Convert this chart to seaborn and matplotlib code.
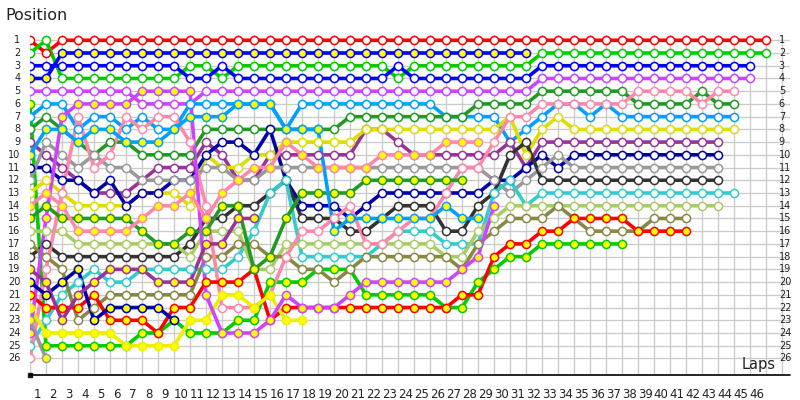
import matplotlib
matplotlib.use("Agg")
import matplotlib.pyplot as plt
import seaborn as sns
import numpy as np
import pandas as pd

sns.set_theme(style="white")
plt.rcParams['font.family'] = ['DejaVu Sans']

# Each driver: (line colour, marker face, runs of (position, number of laps)) starting at lap 0
red_w = [(1,1),(2,1),(1,45)]
green_w = [(2,1),(1,1),(4,8),(3,2),(4,1),(3,10),(4,1),(3,8),(2,15)]
blue_w = [(3,10),(4,2),(3,1),(4,10),(3,1),(4,8),(3,14)]
blue_y = [(4,2),(2,30)]
magenta_w = [(5,7),(6,4),(5,21),(4,14)]
green_y = [(6,1),(25,6),(24,2),(23,1),(24,3),(23,2),(20,3),(19,3),(21,5),(22,2),(20,1),(19,1),(18,2),(17,6)]
lightblue_w = [(7,1),(6,2),(8,1),(7,2),(8,1),(7,1),(8,2),(6,6),(8,1),(6,9),(7,4),(9,1),(8,1),(7,1),(6,2),(7,1),(6,1),(7,8)]
darkgreen_w = [(8,1),(7,1),(8,1),(9,1),(10,1),(9,2),(10,4),(8,9),(7,8),(6,4),(5,6),(6,4),(5,1),(6,2)]
purple_w = [(9,1),(10,1),(11,1),(12,1),(13,3),(12,1),(11,3),(9,1),(10,1),(12,2),(10,6),(8,2),(9,1),(10,6),(9,1),(11,1),(9,12)]
yellow_w = [(13,1),(12,1),(13,1),(14,4),(13,3),(14,1),(10,1),(11,2),(10,2),(9,5),(8,7),(8,2),(7,1),(10,1),(8,1),(7,1),(8,11)]
darkblue_w = [(11,2),(12,2),(13,1),(12,1),(14,1),(13,2),(12,2),(10,1),(9,2),(10,1),(8,1),(12,1),(14,3),(15,1),(14,1),(13,7),(12,2),(11,1),(10,1),(11,1),(10,10)]
gray_w = [(12,1),(9,1),(10,1),(11,1),(10,1),(11,2),(12,4),(11,2),(12,2),(11,14),(12,1),(13,1),(12,1),(11,1),(10,1),(11,10)]
black_w = [(18,1),(17,1),(18,8),(17,1),(15,2),(14,2),(13,1),(12,1),(15,3),(16,2),(15,1),(14,3),(16,2),(14,1),(13,1),(10,1),(9,1),(12,12)]
cyan_w = [(25,1),(23,1),(21,1),(20,1),(19,1),(20,2),(19,6),(18,1),(16,1),(13,1),(12,1),(18,5),(17,1),(16,3),(17,3),(13,1),(12,1),(14,1),(13,13)]
lightgreen_w = [(16,3),(17,7),(18,1),(16,3),(19,2),(17,10),(18,2),(16,1),(15,1),(14,14)]
olive_w = [(17,1),(18,1),(19,1),(23,1),(22,1),(21,6),(18,2),(17,2),(18,2),(19,2),(20,1),(19,1),(18,6),(19,1),(17,1),(16,1),(15,3),(14,1),(15,1),(16,4),(15,3)]
pink_w = [(26,1),(19,1),(13,1),(7,1),(11,1),(10,1),(7,1),(8,1),(7,2),(9,1),(14,1),(22,3),(21,1),(18,1),(16,2),(15,1),(14,1),(17,2),(16,1),(15,2),(13,1),(11,2),(9,1),(7,2),(6,6),(5,4),(6,1),(5,2)]
red_y = [(21,1),(22,3),(21,1),(23,3),(24,1),(22,2),(20,3),(19,1),(23,1),(22,11),(21,2),(18,1),(17,2),(16,2),(15,4),(16,4)]
yellow_y = [(22,1),(24,5),(25,4),(23,2),(21,2),(22,1),(21,1),(23,2)]
darkgreen_y = [(15,1),(14,1),(15,5),(16,1),(17,2),(16,2),(14,2),(19,1),(18,1),(15,1),(13,4),(12,7)]
magenta_y = [(24,1),(15,1),(7,1),(6,4),(5,4),(21,1),(24,3),(23,1),(21,1),(22,3),(21,1),(20,6),(19,1),(18,1),(14,1)]
pink_y = [(14,1),(13,1),(14,1),(16,4),(15,1),(14,2),(13,1),(15,1),(13,1),(12,1),(11,2),(9,1),(10,1),(11,4),(10,4),(9,3)]
lightblue_y = [(10,1),(8,2),(9,1),(8,2),(9,3),(8,1),(7,3),(6,3),(8,3),(16,1),(15,6),(14,1),(15,2)]
darkblue_y = [(20,1),(21,1),(20,1),(19,1),(23,1),(22,4),(23,1)]
purple_y = [(19,1),(20,1),(23,1),(21,1),(20,1),(19,3),(20,3),(17,2),(15,2)]
gray_y = [(23,1),(26,1)]

drivers = [
    ("#ff0000", "white", red_w), ("#00cc00", "white", green_w), ("#0000ff", "white", blue_w),
    ("#0000ff", "#ffff00", blue_y), ("#cc44ff", "white", magenta_w), ("#00cc00", "#ffff00", green_y),
    ("#00a0ff", "white", lightblue_w), ("#229922", "white", darkgreen_w), ("#993399", "white", purple_w),
    ("#dddd00", "white", yellow_w), ("#0000aa", "white", darkblue_w), ("#999999", "white", gray_w),
    ("#333333", "white", black_w), ("#33cccc", "white", cyan_w), ("#aacc66", "white", lightgreen_w),
    ("#888844", "white", olive_w), ("#ff88aa", "white", pink_w), ("#ff0000", "#ffff00", red_y),
    ("#eeee00", "#ffff00", yellow_y), ("#229922", "#ffff00", darkgreen_y), ("#cc44ff", "#ffff00", magenta_y),
    ("#ff88aa", "#ffff00", pink_y), ("#00a0ff", "#ffff00", lightblue_y), ("#0000aa", "#ffff00", darkblue_y),
    ("#993399", "#ffff00", purple_y), ("#999999", "#ffff00", gray_y),
]

fig = plt.figure(figsize=(8, 4), dpi=100)
ax = fig.add_axes([30/800, 25/400, 760/800, 350/400])

# grid
for p in range(1, 27):
    ax.plot([0, 47.5], [p, p], color="#cccccc", lw=1, zorder=0)
for k in range(0, 48):
    ax.plot([k, k], [0.6, 27.3], color="#cccccc", lw=1, zorder=0)

for i, (col, face, runs) in enumerate(drivers):
    pos = np.repeat([r[0] for r in runs], [r[1] for r in runs])
    df = pd.DataFrame({"lap": np.arange(len(pos)), "pos": pos})
    sns.lineplot(data=df, x="lap", y="pos", color=col, lw=2.6, ax=ax, zorder=2 + i * 0.01,
                 estimator=None, sort=False, legend=False)
    sns.scatterplot(data=df, x="lap", y="pos", color=face, edgecolor=col, linewidth=1.1, s=34,
                    ax=ax, zorder=3 + i * 0.01, legend=False)

ax.set_xlim(0, 47.5)
ax.set_ylim(27.3, -0.2)
ax.axis("off")

ax.annotate("", xy=(0, -0.3), xytext=(0, 27.3),
            arrowprops=dict(arrowstyle="-|>", color="black", lw=1, mutation_scale=8), zorder=5)
ax.plot([0, 47.5], [27.3, 27.3], color="black", lw=1.2, clip_on=False, zorder=5)
ax.plot([0], [27.3], "ks", ms=3, clip_on=False)

for p in range(1, 27):
    ax.text(-0.6, p, str(p), ha="right", va="center", fontsize=7, color="#222222")
    ax.text(46.8, p, str(p), ha="left", va="center", fontsize=7, color="#222222")
for k in range(1, 47):
    ax.text(k - 0.55, 28.8, str(k), ha="center", va="center", fontsize=8.5, color="#222222", clip_on=False)

fig.text(5/800, 1 - 15/400, "Position", fontsize=11.5, ha="left", va="center", color="#222222")
fig.text(742/800, 1 - 364/400, "Laps", fontsize=10.5, ha="left", va="center", color="#222222")

fig.savefig("out.png", dpi=100)
